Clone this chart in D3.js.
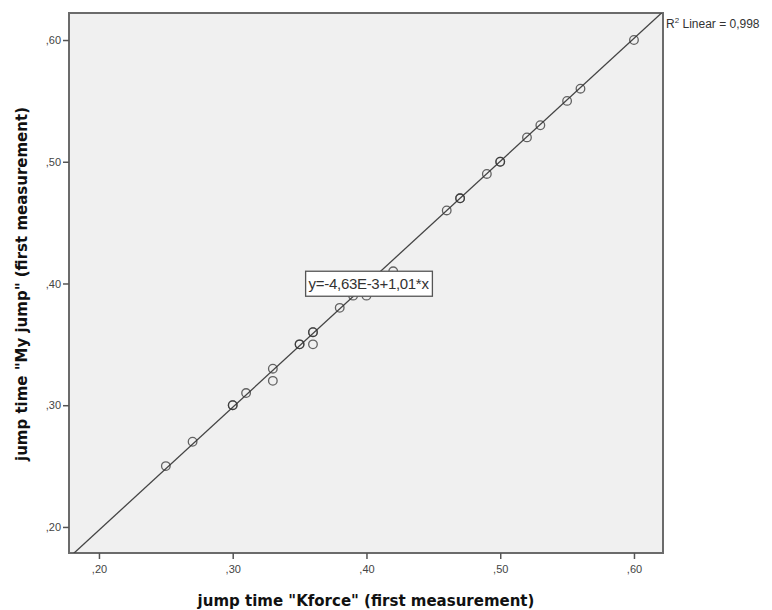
<!DOCTYPE html>
<html lang="en">
<head>
  <meta charset="UTF-8">
  <title>jump time scatter</title>
  <script src="https://d3js.org/d3.v7.min.js"></script>
  <style>
    body { margin: 0; background: white; }
    .tick text { font-family: "Liberation Sans", Arial, sans-serif; font-size: 11px; fill: #444; }
    .tick line { stroke: #555; stroke-width: 1.5px; }
    .axis-title { font-family: "DejaVu Sans", sans-serif; font-weight: bold; font-size: 15px; fill: #111; }
    .frame { fill: #f0f0f0; stroke: #6b6b6b; stroke-width: 2px; }
    .fit { stroke: #444; stroke-width: 1.3px; fill: none; }
    .pt { fill: none; stroke: #333; stroke-width: 1.3px; stroke-opacity: 0.75; }
  </style>
</head>
<body>
<svg id="chart" width="772" height="610"></svg>
<script>
  // Kforce (x) vs My jump (y), duplicates kept as separate points
  const kforce = [0.25, 0.27, 0.30, 0.30, 0.31, 0.33, 0.33, 0.35, 0.35, 0.36, 0.36, 0.36,
                  0.38, 0.39, 0.40, 0.42, 0.46, 0.47, 0.47, 0.49, 0.50, 0.50, 0.52, 0.53,
                  0.55, 0.56, 0.60];
  const myjump = [0.25, 0.27, 0.30, 0.30, 0.31, 0.33, 0.32, 0.35, 0.35, 0.36, 0.36, 0.35,
                  0.38, 0.39, 0.39, 0.41, 0.46, 0.47, 0.47, 0.49, 0.50, 0.50, 0.52, 0.53,
                  0.55, 0.56, 0.60];
  const xTicks = [0.20, 0.30, 0.40, 0.50, 0.60];
  const yTicks = [0.20, 0.30, 0.40, 0.50, 0.60];
  const fitIntercept = -4.63e-3;
  const fitSlope = 1.01;
  const rSquared = "0,998";

  const svg = d3.select("#chart");
  const margin = { top: 13, right: 109, bottom: 57, left: 69 };
  const width = 772 - margin.left - margin.right;
  const height = 610 - margin.top - margin.bottom;

  const x = d3.scaleLinear().domain([0.1776, 0.6217]).range([0, width]);
  const y = d3.scaleLinear().domain([0.1786, 0.6222]).range([height, 0]);

  const g = svg.append("g").attr("transform", "translate(" + margin.left + "," + margin.top + ")");

  g.append("rect").attr("class", "frame")
    .attr("width", width).attr("height", height);

  // comma decimal like ",20"
  const fmt = d => d3.format(".2f")(d).replace("0.", ",");

  g.append("g").attr("transform", "translate(0," + height + ")")
    .call(d3.axisBottom(x).tickValues(xTicks).tickSize(6).tickPadding(6).tickFormat(fmt))
    .call(a => a.select(".domain").remove());
  g.append("g")
    .call(d3.axisLeft(y).tickValues(yTicks).tickSize(6).tickPadding(2).tickFormat(fmt))
    .call(a => a.select(".domain").remove());

  // fit line, clipped to the plot area
  g.append("clipPath").attr("id", "clip")
    .append("rect").attr("width", width).attr("height", height);
  const xs = x.domain();
  g.append("line").attr("class", "fit").attr("clip-path", "url(#clip)")
    .attr("x1", x(xs[0])).attr("y1", y(fitIntercept + fitSlope * xs[0]))
    .attr("x2", x(xs[1])).attr("y2", y(fitIntercept + fitSlope * xs[1]));

  g.selectAll("circle.pt").data(kforce.map((v, i) => [v, myjump[i]]))
    .join("circle").attr("class", "pt")
    .attr("cx", d => x(d[0])).attr("cy", d => y(d[1])).attr("r", 4.3);

  // equation box
  const eq = g.append("g").attr("transform", "translate(" + x(0.4016) + "," + (y(0.40) + 0.5) + ")");
  const eqText = eq.append("text").attr("text-anchor", "middle").attr("dy", "0.35em")
    .style("font-family", "Liberation Sans, Arial, sans-serif").style("font-size", "15px").style("fill", "#333")
    .style("letter-spacing", "-0.3px")
    .text("y=-4,63E-3+1,01*x");
  const bb = eqText.node().getBBox();
  eq.insert("rect", "text")
    .attr("x", bb.x - 3).attr("y", bb.y - 4).attr("width", bb.width + 6).attr("height", bb.height + 8)
    .attr("fill", "white").attr("stroke", "#555").attr("stroke-width", 1.3);

  // R² label
  const r2 = g.append("text").attr("x", width + 3).attr("y", 15)
    .style("font-family", "Liberation Sans, Arial, sans-serif").style("font-size", "12px").style("fill", "#333");
  r2.append("tspan").text("R");
  r2.append("tspan").attr("dy", -5).style("font-size", "8px").text("2");
  r2.append("tspan").attr("dy", 5).text(" Linear = " + rSquared);

  // axis titles
  svg.append("text").attr("class", "axis-title").attr("text-anchor", "middle")
    .attr("x", 366).attr("y", 606)
    .text('jump time "Kforce" (first measurement)');
  svg.append("text").attr("class", "axis-title").attr("text-anchor", "middle")
    .attr("transform", "translate(27,284) rotate(-90)")
    .text('jump time "My jump" (first measurement)');
</script>
</body>
</html>
